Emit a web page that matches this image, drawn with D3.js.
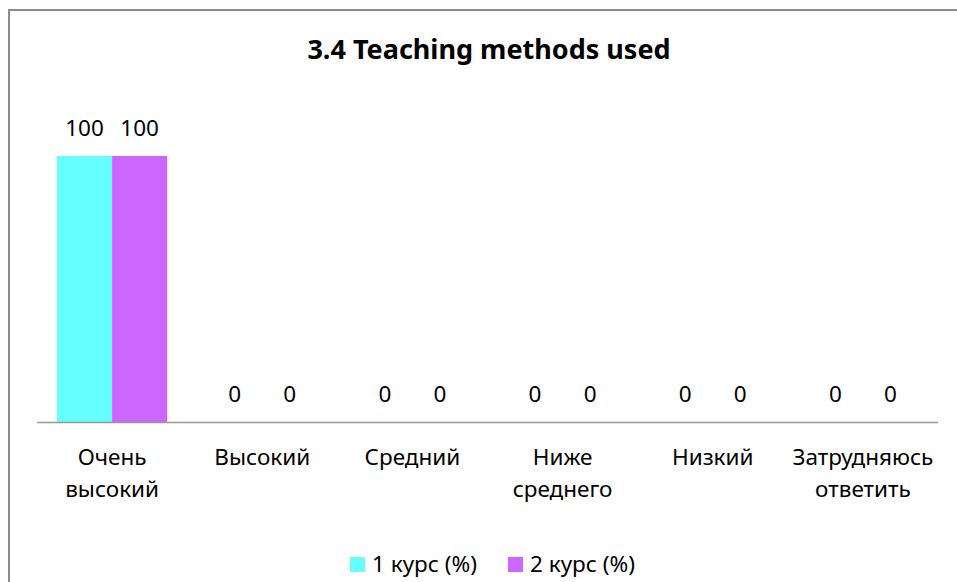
<!DOCTYPE html>
<html>
<head>
<meta charset="utf-8">
<style>
  body { margin: 0; background: #fff; }
  text { font-family: "Noto Sans", "Open Sans", sans-serif; fill: #000; }
  .title { font-weight: bold; font-size: 27px; }
  .lbl { font-size: 22.5px; }
</style>
</head>
<body>
<div id="chart"></div>
<script src="https://d3js.org/d3.v7.min.js"></script>
<script>
  var categories = [["Очень", "высокий"], ["Высокий"], ["Средний"], ["Ниже", "среднего"], ["Низкий"], ["Затрудняюсь", "ответить"]];
  var seriesNames = ["1 курс (%)", "2 курс (%)"];
  var course1 = [100, 0, 0, 0, 0, 0];
  var course2 = [100, 0, 0, 0, 0, 0];
  var colors = ["#66ffff", "#cc66ff"];

  var width = 957, height = 582;
  var svg = d3.select("#chart").append("svg")
      .attr("width", width).attr("height", height);

  // chart frame, cut off on the right and bottom like the reference
  svg.append("path")
      .attr("d", "M9,590 L9,10 L970,10")
      .attr("fill", "none").attr("stroke", "#8c8c8c").attr("stroke-width", 2);

  svg.append("text").attr("class", "title")
      .attr("x", 489).attr("y", 59).attr("text-anchor", "middle")
      .text("3.4 Teaching methods used");

  var x0 = d3.scaleBand().domain(d3.range(categories.length))
      .range([37, 938]).paddingInner(0.266).paddingOuter(0.133);
  var x1 = d3.scaleBand().domain([0, 1]).range([0, x0.bandwidth()]);
  var y = d3.scaleLinear().domain([0, 100]).range([422, 156]);

  var rows = categories.map(function (c, i) { return [course1[i], course2[i]]; });

  var groups = svg.selectAll("g.cat").data(rows).enter().append("g")
      .attr("class", "cat")
      .attr("transform", function (d, i) { return "translate(" + x0(i) + ",0)"; });

  groups.selectAll("rect").data(function (d) { return d; }).enter().append("rect")
      .attr("x", function (d, j) { return x1(j); })
      .attr("y", function (d) { return y(d); })
      .attr("width", x1.bandwidth())
      .attr("height", function (d) { return y(0) - y(d); })
      .attr("fill", function (d, j) { return colors[j]; });

  groups.selectAll("text.val").data(function (d) { return d; }).enter().append("text")
      .attr("class", "lbl val")
      .attr("x", function (d, j) { return x1(j) + x1.bandwidth() / 2; })
      .attr("y", function (d) { return y(d) - 20; })
      .attr("text-anchor", "middle")
      .text(function (d) { return d; });

  // axis line
  svg.append("line")
      .attr("x1", 37).attr("x2", 938).attr("y1", y(0) + 0.5).attr("y2", y(0) + 0.5)
      .attr("stroke", "#999").attr("stroke-width", 1.5);

  // category labels
  var xc = d3.scaleBand().domain(d3.range(categories.length)).range([37, 938]);
  svg.selectAll("text.cat").data(categories).enter().append("text")
      .attr("class", "lbl cat")
      .attr("text-anchor", "middle")
      .attr("x", function (d, i) { return xc(i) + xc.bandwidth() / 2; })
      .attr("y", 465)
      .each(function (d) {
        var t = d3.select(this);
        d.forEach(function (line, k) {
          t.append("tspan").attr("x", t.attr("x")).attr("dy", k ? 32 : 0).text(line);
        });
      });

  // legend
  var legendX = [350, 508];
  var leg = svg.selectAll("g.leg").data(seriesNames).enter().append("g")
      .attr("class", "leg")
      .attr("transform", function (d, i) { return "translate(" + legendX[i] + ",557)"; });
  leg.append("rect").attr("width", 15).attr("height", 15)
      .attr("fill", function (d, i) { return colors[i]; });
  leg.append("text").attr("class", "lbl").attr("x", 22).attr("y", 15).text(function (d) { return d; });
</script>
</body>
</html>
